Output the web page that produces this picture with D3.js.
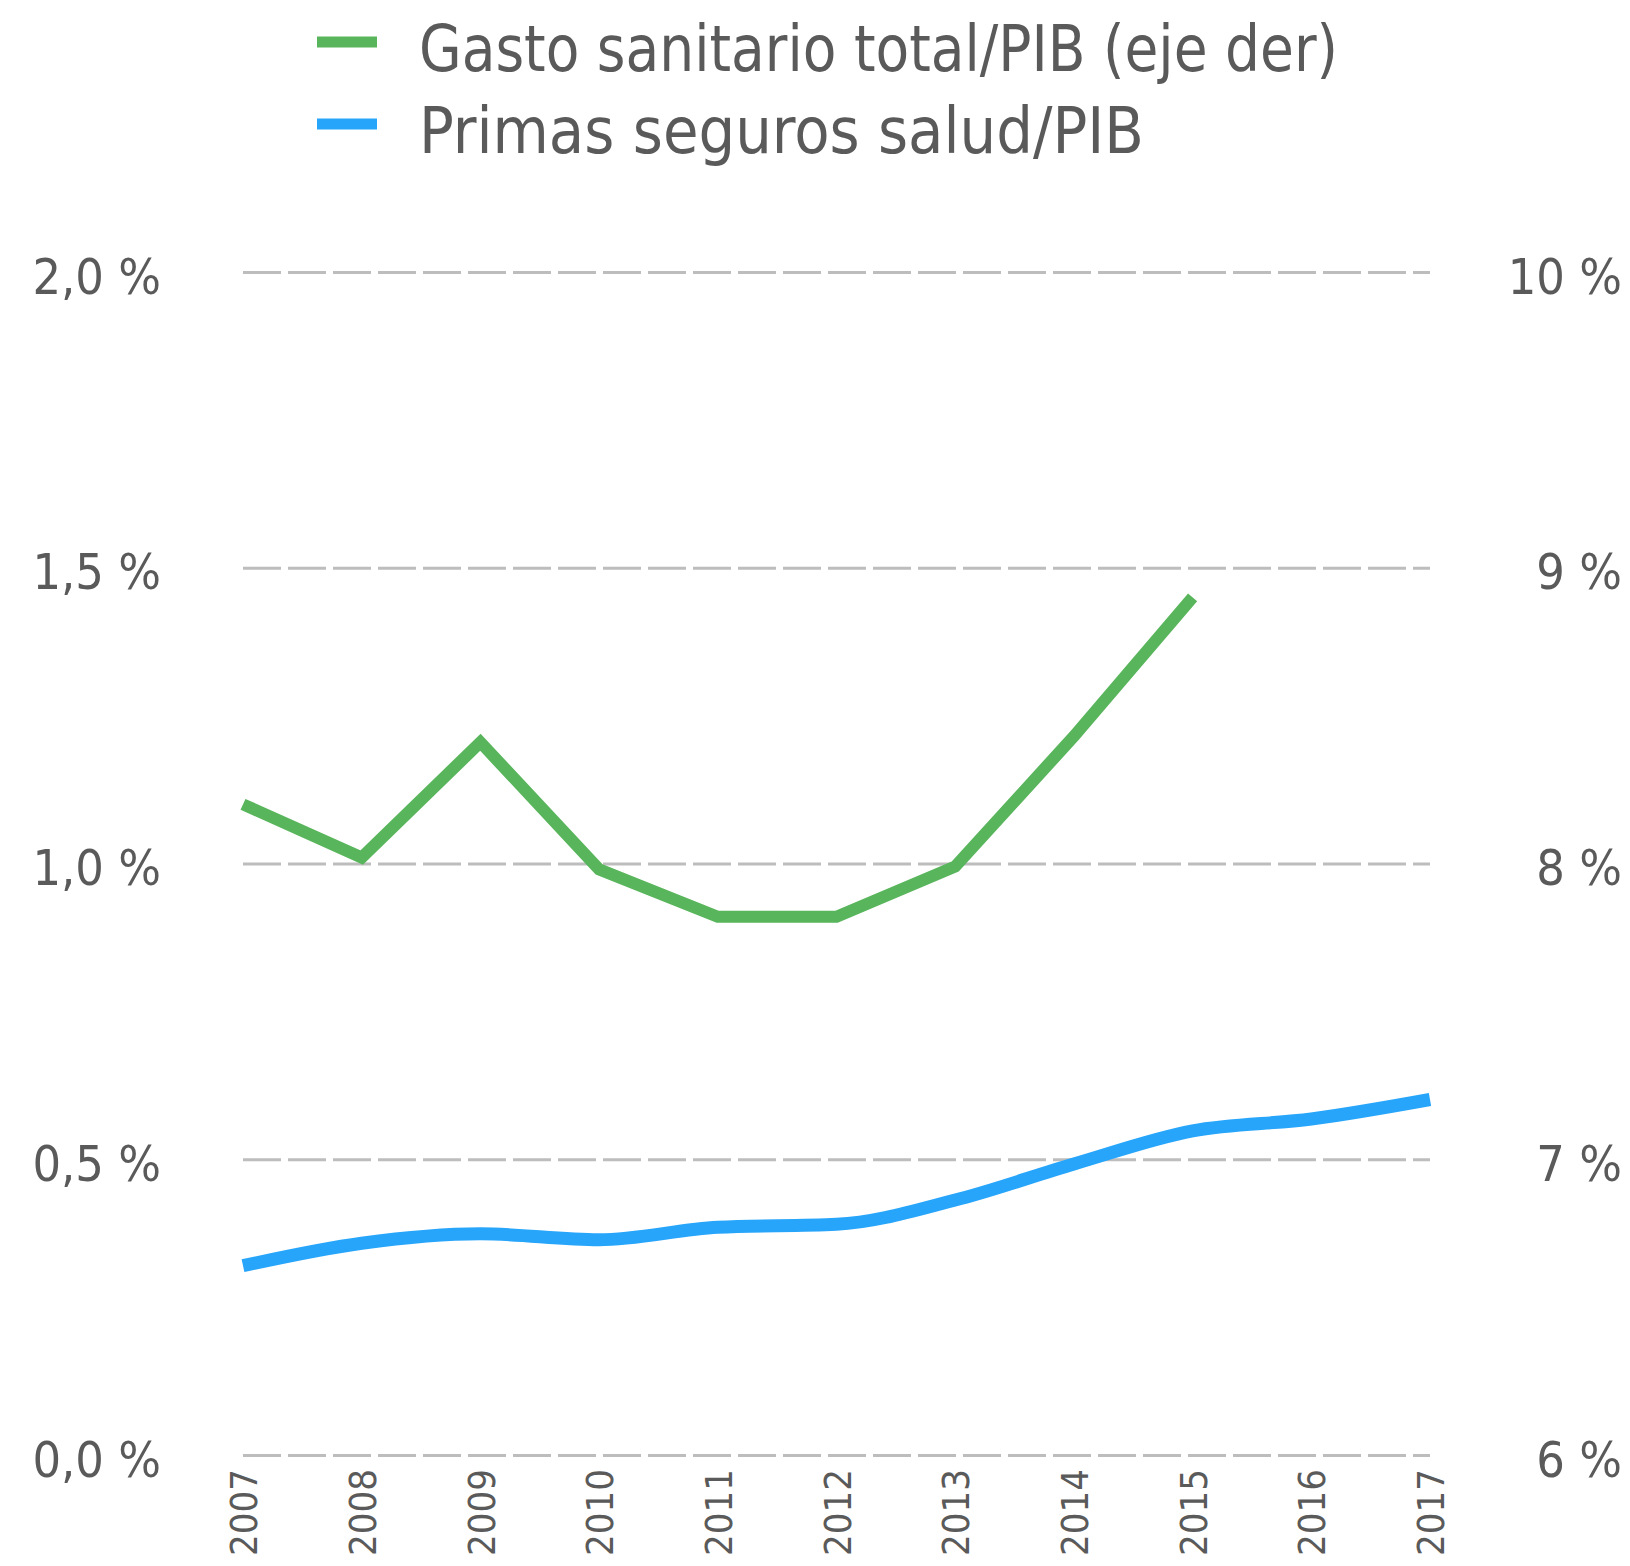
<!DOCTYPE html>
<html>
<head>
<meta charset="utf-8">
<script src="https://cdn.jsdelivr.net/npm/d3@7"></script>
<style>
  body { margin: 0; background: #fff; }
  svg { display: block; }
  text { fill: #5a5a5a; font-family: "DejaVu Sans Condensed", "DejaVu Sans", sans-serif; }
</style>
</head>
<body>
<svg></svg>
<script>
// data
const years = [2007, 2008, 2009, 2010, 2011, 2012, 2013, 2014, 2015, 2016, 2017]
const gasto = [8.20, 8.02, 8.41, 7.98, 7.82, 7.82, 7.99, 8.43, 8.90]       // eje der, 2007-2015
const primas = [0.32, 0.358, 0.374, 0.364, 0.385, 0.39, 0.431, 0.492, 0.548, 0.568, 0.601]
const leftTicks = [0, 0.5, 1, 1.5, 2]
const rightTicks = [6, 7, 8, 9, 10]
const legendItems = ["Gasto sanitario total/PIB (eje der)", "Primas seguros salud/PIB"]

const W = 1630, H = 1566
const x0 = 243, x1 = 1430, yTop = 272, yBot = 1455
const green = "#58b55b", blue = "#27a5fb"

const svg = d3.select("svg").attr("width", W).attr("height", H)

const x = d3.scalePoint().domain(years).range([x0, x1])
const yL = d3.scaleLinear().domain([0, 2]).range([yBot, yTop])
const yR = d3.scaleLinear().domain([6, 10]).range([yBot, yTop])

const es = d3.formatLocale({ decimal: ",", thousands: ".", grouping: [3], currency: ["", " €"] })
const f1 = es.format(".1f")

// left axis + gridlines
let gl = svg.append("g")
  .attr("transform", "translate(" + x0 + ",0)")
  .call(d3.axisLeft(yL).tickValues(leftTicks).tickSize(-(x1 - x0)).tickPadding(82).tickFormat(d => f1(d) + " %"))
gl.select(".domain").remove()
gl.selectAll(".tick line")
  .attr("stroke", "#bdbdbd")
  .attr("stroke-width", 3)
  .attr("stroke-dasharray", "38,7")
gl.selectAll(".tick text")
  .attr("font-size", 50)
  .attr("dy", "0.42em")

// right axis, labels only
let gr = svg.append("g")
  .attr("transform", "translate(" + x1 + ",0)")
  .call(d3.axisRight(yR).tickValues(rightTicks).tickSize(0).tickFormat(d => d + " %"))
gr.select(".domain").remove()
gr.selectAll(".tick text")
  .attr("x", 192)
  .attr("text-anchor", "end")
  .attr("font-size", 50)
  .attr("dy", "0.42em")

// x axis, rotated year labels
let gx = svg.append("g")
  .attr("transform", "translate(0," + 1469 + ")")
  .call(d3.axisBottom(x).tickSize(0).tickPadding(0))
gx.select(".domain").remove()
gx.selectAll(".tick text")
  .attr("transform", "rotate(-90)")
  .attr("text-anchor", "end")
  .attr("x", 0)
  .attr("y", 0)
  .attr("dy", "0.36em")
  .attr("font-size", 38)

// lines
const lineG = d3.line()
  .x((d, i) => x(years[i]))
  .y(d => yR(d))
const lineB = d3.line()
  .x((d, i) => x(years[i]))
  .y(d => yL(d))
  .curve(d3.curveMonotoneX)

svg.append("path")
  .datum(primas)
  .attr("d", lineB)
  .attr("fill", "none")
  .attr("stroke", blue)
  .attr("stroke-width", 13)

svg.append("path")
  .datum(gasto)
  .attr("d", lineG)
  .attr("fill", "none")
  .attr("stroke", green)
  .attr("stroke-width", 12)
  .attr("stroke-linejoin", "miter")

// legend
const legend = svg.append("g")
const lw = [919, 725]
legendItems.forEach((t, i) => {
  let g = legend.append("g").attr("transform", "translate(0," + (i === 0 ? 42 : 124) + ")")
  g.append("line")
    .attr("x1", 317).attr("x2", 377)
    .attr("stroke", i === 0 ? green : blue)
    .attr("stroke-width", 11)
  g.append("text")
    .attr("x", 419)
    .attr("y", 29)
    .attr("font-size", 64)
    .attr("textLength", lw[i])
    .attr("lengthAdjust", "spacingAndGlyphs")
    .text(t)
})
</script>
</body>
</html>
